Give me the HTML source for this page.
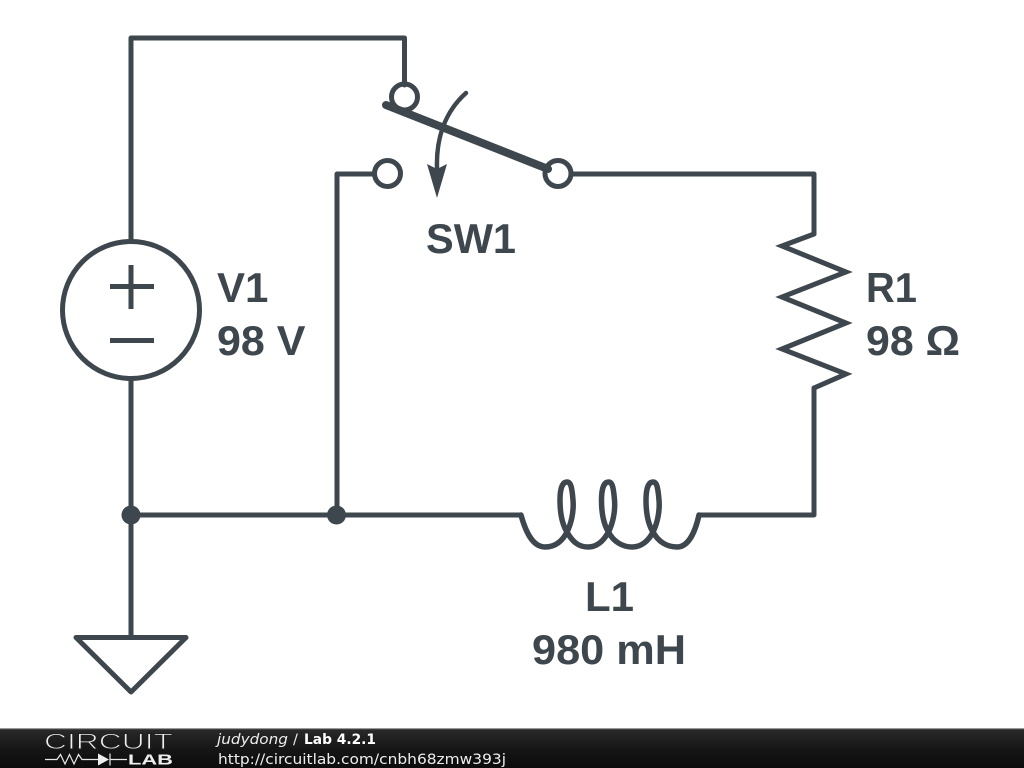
<!DOCTYPE html>
<html><head><meta charset="utf-8">
<style>
html,body{margin:0;padding:0;background:#fff;width:1024px;height:768px;overflow:hidden}
svg{display:block}
</style></head>
<body>
<svg width="1024" height="768" viewBox="0 0 1024 768" xmlns="http://www.w3.org/2000/svg">
<defs>
<linearGradient id="bar" x1="0" y1="0" x2="0" y2="1">
<stop offset="0" stop-color="#2a2a2a"/><stop offset="0.5" stop-color="#161616"/><stop offset="1" stop-color="#0c0c0c"/>
</linearGradient>
</defs>
<rect width="1024" height="768" fill="#fff"/>
<g fill="none" stroke="#3e474d" stroke-width="5" stroke-linejoin="round" stroke-linecap="round">
<!-- wires -->
<path d="M131 241V38H404.500V85"/>
<path d="M131 379V637"/>
<path d="M131 515H520"/>
<path d="M337 515V174H374"/>
<path d="M571 174H814V234"/>
<path d="M814 388V515H699"/>
<!-- voltage source -->
<circle cx="131" cy="310" r="68.500"/>
<path d="M131 265V309M110 286.500H154M110 340.500H154" stroke-linecap="butt"/>
<!-- switch contacts -->
<circle cx="404.500" cy="97" r="13"/>
<circle cx="387.500" cy="173.500" r="13"/>
<circle cx="558" cy="173.500" r="13"/>
<path d="M386 105L548 169" stroke-width="8"/>
<!-- switch arc -->
<path d="M466 93C447 110 436 135 437 168" stroke-width="4.500"/>
<!-- resistor -->
<path d="M814 234L782 246L846 272L782 297L846 323L782 349L846 374L814 388" stroke-linejoin="miter" stroke-miterlimit="8"/>
<!-- inductor -->
<path stroke-width="5.500" d="M521 515C526 533 533 547 545 547C556 547 563 540 567 532C571 524 574 512 573 500C572 488 571 482 567 482C562 482 560 490 560 500C560 512 562 524 567 532C572 541 578 547 588 547C598 547 604 540 608.500 532C612.500 524 615.500 512 614.500 500C613.500 488 612.500 482 608.500 482C603.500 482 601.500 490 601.500 500C601.500 512 603.500 524 608.500 532C613 541 622 547 632 547C642 547 649 540 653 532C657 524 660 512 659 500C658 488 657 482 653 482C648 482 646 490 646 500C646 512 648 524 653 532C658 541 666 547 677 547C688 547 695 533 699 515"/>
<!-- ground -->
<path d="M76 637.500H186L131 692Z"/>
</g>
<path d="M427 164L437 169L447 164L437 198Z" fill="#3e474d"/>
<circle cx="131" cy="515" r="9.500" fill="#3e474d"/>
<circle cx="336.500" cy="515" r="9.500" fill="#3e474d"/>
<g font-family="'Liberation Sans',sans-serif" font-weight="700" font-size="42" fill="#3e474d">
<text x="426" y="253" textLength="90" lengthAdjust="spacingAndGlyphs">SW1</text>
<text x="217" y="302">V1</text>
<text x="217" y="355" textLength="88.500" lengthAdjust="spacingAndGlyphs">98 V</text>
<text x="866" y="302" textLength="51" lengthAdjust="spacingAndGlyphs">R1</text>
<text x="866" y="355" textLength="94" lengthAdjust="spacingAndGlyphs">98 Ω</text>
<text x="585" y="611">L1</text>
<text x="532" y="664" textLength="154" lengthAdjust="spacingAndGlyphs">980 mH</text>
</g>
<!-- footer -->
<rect x="0" y="729" width="1024" height="39" fill="url(#bar)"/>
<rect x="0" y="728" width="1024" height="1.200" fill="#9a9a9a"/>
<text x="44" y="749" font-family="'Liberation Sans',sans-serif" font-size="22" fill="#f0f0f0" stroke="#1f1f1f" stroke-width="0.900" textLength="129" lengthAdjust="spacingAndGlyphs">CIRCUIT</text>
<path d="M45 759.500H57L60.500 754.500L65 764L69.500 754.500L74 764L78.500 754.500L82 759.500H99M127 759.500H110M110 753.500V765.500" fill="none" stroke="#e8e8e8" stroke-width="1.200"/>
<path d="M98 753.500L109 759.500L98 765.500Z" fill="#eee"/>
<text x="128" y="764.500" font-family="'Liberation Sans',sans-serif" font-size="14.500" font-weight="700" fill="#eee" textLength="45" lengthAdjust="spacingAndGlyphs">LAB</text>
<g font-family="'DejaVu Sans',sans-serif" font-size="14.500" fill="#eee">
<text x="217" y="744" font-style="italic" textLength="71" lengthAdjust="spacingAndGlyphs">judydong</text>
<text x="293" y="744">/</text>
<text x="304" y="744" font-weight="700" fill="#fff" textLength="72" lengthAdjust="spacingAndGlyphs">Lab 4.2.1</text>
<text x="218" y="764" textLength="288" lengthAdjust="spacingAndGlyphs">http://circuitlab.com/cnbh68zmw393j</text>
</g>
</svg>
</body></html>
